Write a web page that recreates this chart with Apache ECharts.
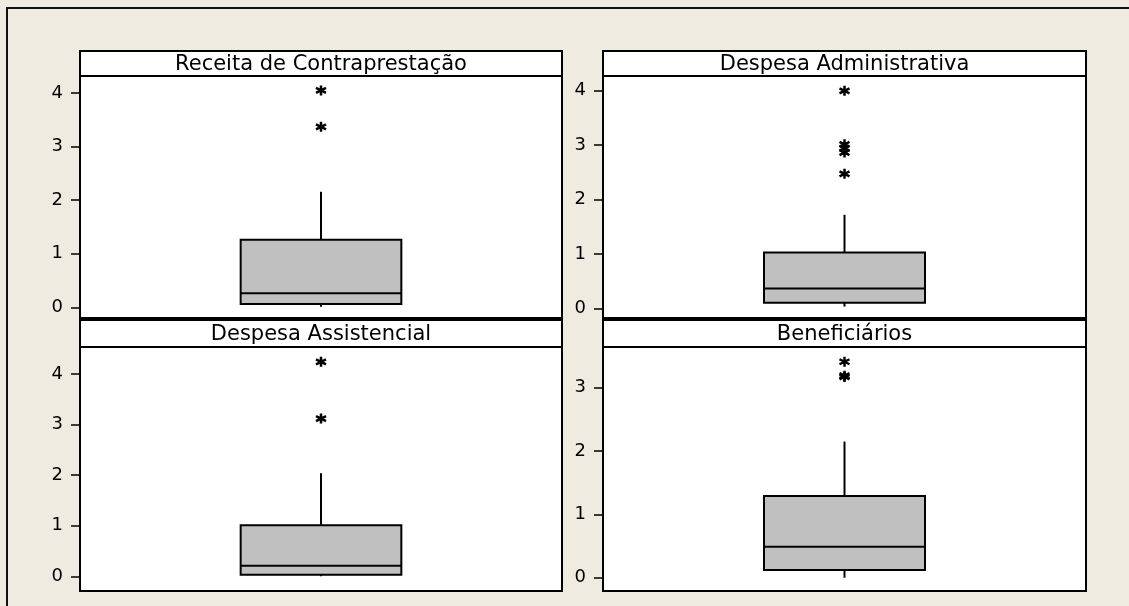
<!DOCTYPE html>
<html><head><meta charset="utf-8">
<script src="https://cdn.jsdelivr.net/npm/echarts@6/dist/echarts.min.js"></script>
<style>html,body{margin:0;padding:0;background:#EFEBE1}#c{width:1129px;height:606px}</style>
</head><body><div id="c"></div>
<script>
// ---- data ----
const panelTitles = ['Receita de Contraprestação', 'Despesa Administrativa', 'Despesa Assistencial', 'Beneficiários'];
const whiskerLow  = [0.01, 0.04, 0.00, 0.00];
const quartile1   = [0.06, 0.11, 0.03, 0.12];
const medians     = [0.26, 0.37, 0.21, 0.49];
const quartile3   = [1.26, 1.03, 1.01, 1.29];
const whiskerHigh = [2.16, 1.72, 2.04, 2.15];
const outliers = [
  [4.05, 3.37],
  [3.99, 3.01, 2.94, 2.86, 2.47],
  [4.24, 3.12],
  [3.41, 3.19, 3.17]
];
const yMin = [-0.2, -0.17, -0.29, -0.21];
const yMax = [4.32, 4.262, 4.534, 3.643];
const yTickLabels = [[0, 1, 2, 3, 4], [0, 1, 2, 3, 4], [0, 1, 2, 3, 4], [0, 1, 2, 3]];

// ---- layout ----
const panels = [
  { left: 80,  top: 76,  width: 482, height: 242, stripTop: 51 },
  { left: 603, top: 76,  width: 483, height: 242, stripTop: 51 },
  { left: 80,  top: 347, width: 482, height: 244, stripTop: 320 },
  { left: 603, top: 347, width: 483, height: 244, stripTop: 320 }
];
const FONT = 'DejaVu Sans';

const chart = echarts.init(document.getElementById('c'), null, { renderer: 'canvas' });

function renderBox(params, api) {
  const x = api.value(0);
  const p = [1, 2, 3, 4, 5].map(i => api.coord([x, api.value(i)]));
  const cx = p[0][0];
  const hw = api.size([1, 0])[0] / 6;
  const ls = { stroke: '#000', lineWidth: 2 };
  return {
    type: 'group',
    children: [
      { type: 'line', shape: { x1: cx, y1: p[4][1], x2: cx, y2: p[3][1] }, style: ls },
      { type: 'line', shape: { x1: cx, y1: p[1][1], x2: cx, y2: p[0][1] }, style: ls },
      { type: 'rect', shape: { x: cx - hw, y: p[3][1], width: 2 * hw, height: p[1][1] - p[3][1] },
        style: { fill: '#C0C0C0', stroke: '#000', lineWidth: 2 } },
      { type: 'line', shape: { x1: cx - hw, y1: p[2][1], x2: cx + hw, y2: p[2][1] }, style: ls }
    ]
  };
}

const asterisk = 'path://M5,0L5,10M0.67,2.5L9.33,7.5M0.67,7.5L9.33,2.5';

const grids = [], xAxes = [], yAxes = [], series = [], graphics = [];

graphics.push({
  type: 'rect', shape: { x: 7, y: 8, width: 1200, height: 700 },
  style: { fill: 'none', stroke: '#111', lineWidth: 2 }, z: 0
});

panels.forEach((pn, i) => {
  grids.push({
    left: pn.left, top: pn.top, width: pn.width, height: pn.height,
    show: true, backgroundColor: '#fff', borderColor: '#000', borderWidth: 2
  });
  xAxes.push({
    gridIndex: i, type: 'category', data: [panelTitles[i]], boundaryGap: true, show: false
  });
  yAxes.push({
    gridIndex: i, type: 'value', min: yMin[i], max: yMax[i],
    axisLine: { show: false },
    splitLine: { show: false },
    axisTick: { show: true, length: 9, customValues: yTickLabels[i], lineStyle: { color: '#000', width: 1.5 } },
    axisLabel: { customValues: yTickLabels[i], margin: 17, fontSize: 18, fontFamily: FONT, color: '#000' }
  });
  series.push({
    type: 'custom', xAxisIndex: i, yAxisIndex: i,
    renderItem: renderBox,
    encode: { x: 0, y: [1, 2, 3, 4, 5] },
    data: [[0, whiskerLow[i], quartile1[i], medians[i], quartile3[i], whiskerHigh[i]]],
    silent: true
  });
  series.push({
    type: 'scatter', xAxisIndex: i, yAxisIndex: i,
    symbol: asterisk, symbolSize: 10,
    itemStyle: { color: '#000', borderColor: '#000', borderWidth: 2.5, opacity: 1 },
    data: outliers[i].map(v => [0, v]),
    silent: true, z: 5
  });
  graphics.push({
    type: 'rect', shape: { x: pn.left, y: pn.stripTop, width: pn.width, height: pn.top - pn.stripTop },
    style: { fill: '#fff', stroke: '#000', lineWidth: 2 }, z: 1
  });
  graphics.push({
    type: 'text', x: pn.left + pn.width / 2, y: (pn.stripTop + pn.top) / 2 + 1,
    style: { text: panelTitles[i], font: '21px "' + FONT + '"', fill: '#000', align: 'center', verticalAlign: 'middle' },
    z: 2
  });
});

chart.setOption({
  backgroundColor: '#EFEBE1',
  animation: false,
  grid: grids, xAxis: xAxes, yAxis: yAxes, series: series,
  graphic: graphics
});
</script>
</body></html>
